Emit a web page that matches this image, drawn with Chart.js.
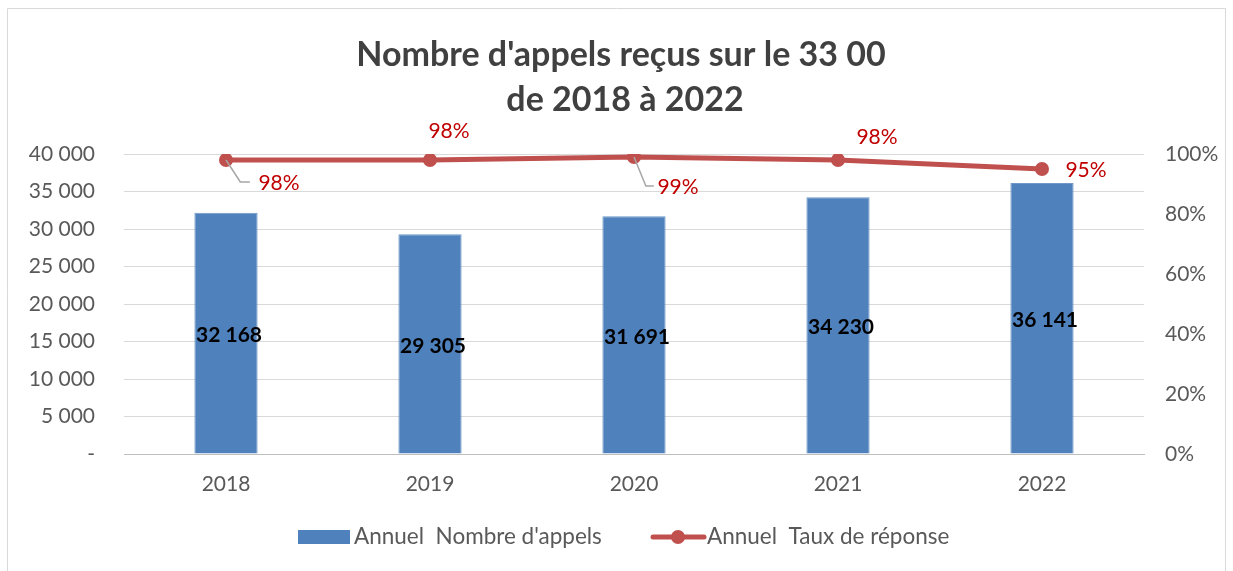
<!DOCTYPE html>
<html lang="fr">
<head>
<meta charset="utf-8">
<script src="https://cdn.jsdelivr.net/npm/chart.js@4/dist/chart.umd.min.js"></script>
<style>
  html, body { margin: 0; padding: 0; background: #fff; }
  #wrap { width: 1233px; height: 571px; position: relative; }
</style>
</head>
<body>
<div id="wrap"><canvas id="appelsChart" width="1233" height="571"></canvas></div>
<script>
const years = ['2018', '2019', '2020', '2021', '2022'];
const nombreAppels = [32168, 29305, 31691, 34230, 36141];
const tauxReponse = [98, 98, 99, 98, 95];
const titleLines = ["Nombre d'appels reçus sur le 33 00", 'de 2018 à 2022'];
const legendLabels = ["Annuel  Nombre d'appels", 'Annuel  Taux de réponse'];

// label placement for the line values (offset from point, leader line or not)
const lineLabelOffsets = [
  { dx: 53, dy: 23, leader: true },
  { dx: 19, dy: -29, leader: false },
  { dx: 44, dy: 30, leader: true },
  { dx: 39, dy: -23, leader: false },
  { dx: 44, dy: 1, leader: false }
];

const FONT = 'Lato, "Open Sans", sans-serif';
const BLUE = '#4f81bd';
const RED_LINE = '#c0504d';
const TEXT = '#595959';

function formatMilliers(v) {
  if (v === 0) return '-';
  return String(v).replace(/\B(?=(\d{3})+(?!\d))/g, ' ');
}

const decorPlugin = {
  id: 'decor',
  beforeDraw(chart) {
    const c = chart.ctx;
    c.save();
    c.fillStyle = '#fff';
    c.fillRect(0, 0, chart.width, chart.height);
    c.strokeStyle = '#d9d9d9';
    c.lineWidth = 1;
    c.beginPath();
    c.moveTo(7.5, 571);
    c.lineTo(7.5, 8.5);
    c.lineTo(1225.5, 8.5);
    c.lineTo(1225.5, 571);
    c.stroke();
    c.restore();
  },
  afterDatasetsDraw(chart) {
    const c = chart.ctx;
    c.save();
    // values inside the bars
    const barMeta = chart.getDatasetMeta(1);
    c.font = 'bold 21px ' + FONT;
    c.fillStyle = '#000';
    c.textAlign = 'center';
    c.textBaseline = 'middle';
    barMeta.data.forEach((bar, i) => {
      const mid = (bar.y + bar.base) / 2;
      c.fillText(formatMilliers(nombreAppels[i]), bar.x + 3, mid + 2);
    });
    // line value labels
    const lineMeta = chart.getDatasetMeta(0);
    c.font = '21px ' + FONT;
    lineMeta.data.forEach((pt, i) => {
      const o = lineLabelOffsets[i];
      const lx = pt.x + o.dx;
      const ly = pt.y + o.dy;
      if (o.leader) {
        c.strokeStyle = '#a6a6a6';
        c.lineWidth = 1.5;
        c.beginPath();
        c.moveTo(pt.x, pt.y);
        c.lineTo(pt.x + o.dx * 0.27, ly - 1);
        c.lineTo(pt.x + o.dx * 0.45, ly - 1);
        c.stroke();
      }
      c.fillStyle = '#c00000';
      c.textAlign = 'center';
      c.fillText(tauxReponse[i] + '%', lx, ly);
    });
    c.restore();
  },
  afterDraw(chart) {
    const c = chart.ctx;
    c.save();
    // title
    c.fillStyle = '#404040';
    c.font = 'bold 34px ' + FONT;
    c.textAlign = 'center';
    c.textBaseline = 'middle';
    c.fillText(titleLines[0], 621, 55);
    c.fillText(titleLines[1], 625, 100);
    // legend
    const ly = 537;
    c.font = '22.5px ' + FONT;
    c.textAlign = 'left';
    c.fillStyle = BLUE;
    c.fillRect(298, ly - 7, 52, 14);
    c.fillStyle = TEXT;
    c.fillText(legendLabels[0], 354, ly);
    c.strokeStyle = RED_LINE;
    c.lineWidth = 5;
    c.lineCap = 'round';
    c.beginPath();
    c.moveTo(653, ly);
    c.lineTo(704, ly);
    c.stroke();
    c.fillStyle = RED_LINE;
    c.beginPath();
    c.arc(678, ly, 7, 0, Math.PI * 2);
    c.fill();
    c.fillStyle = TEXT;
    c.fillText(legendLabels[1], 707, ly);
    c.restore();
  }
};

const ctx = document.getElementById('appelsChart').getContext('2d');

new Chart(ctx, {
  data: {
    labels: years,
    datasets: [
      {
        type: 'line',
        label: legendLabels[1],
        data: tauxReponse,
        yAxisID: 'y1',
        borderColor: RED_LINE,
        backgroundColor: RED_LINE,
        borderWidth: 5,
        pointRadius: 7,
        pointBackgroundColor: RED_LINE,
        pointBorderWidth: 0,
        tension: 0,
        order: 0
      },
      {
        type: 'bar',
        label: legendLabels[0],
        data: nombreAppels,
        yAxisID: 'y',
        backgroundColor: BLUE,
        borderColor: '#6f97c9',
        borderWidth: 1,
        categoryPercentage: 1,
        barPercentage: 0.31,
        order: 1
      }
    ]
  },
  options: {
    responsive: false,
    animation: false,
    layout: {
      padding: { top: 154, left: 0, right: 0, bottom: 0 }
    },
    plugins: {
      legend: { display: false },
      title: { display: false },
      tooltip: { enabled: false }
    },
    scales: {
      x: {
        grid: { display: false, drawTicks: false },
        border: { display: true, color: '#bfbfbf', width: 1 },
        ticks: {
          color: TEXT,
          font: { family: FONT, size: 21 },
          padding: 18
        },
        afterFit(scale) { scale.height = 117; }
      },
      y: {
        position: 'left',
        min: 0,
        max: 40000,
        grid: {
          color: '#d9d9d9',
          lineWidth: 1,
          drawTicks: false
        },
        border: { display: false },
        ticks: {
          stepSize: 5000,
          color: TEXT,
          font: { family: FONT, size: 21 },
          padding: 29,
          callback: (v) => formatMilliers(v)
        },
        afterFit(scale) { scale.width = 124; }
      },
      y1: {
        position: 'right',
        min: 0,
        max: 100,
        grid: { display: false, drawTicks: false },
        border: { display: false },
        ticks: {
          stepSize: 20,
          color: TEXT,
          font: { family: FONT, size: 21 },
          padding: 21,
          callback: (v) => v + '%'
        },
        afterFit(scale) { scale.width = 89; }
      }
    }
  },
  plugins: [decorPlugin]
});
</script>
</body>
</html>
